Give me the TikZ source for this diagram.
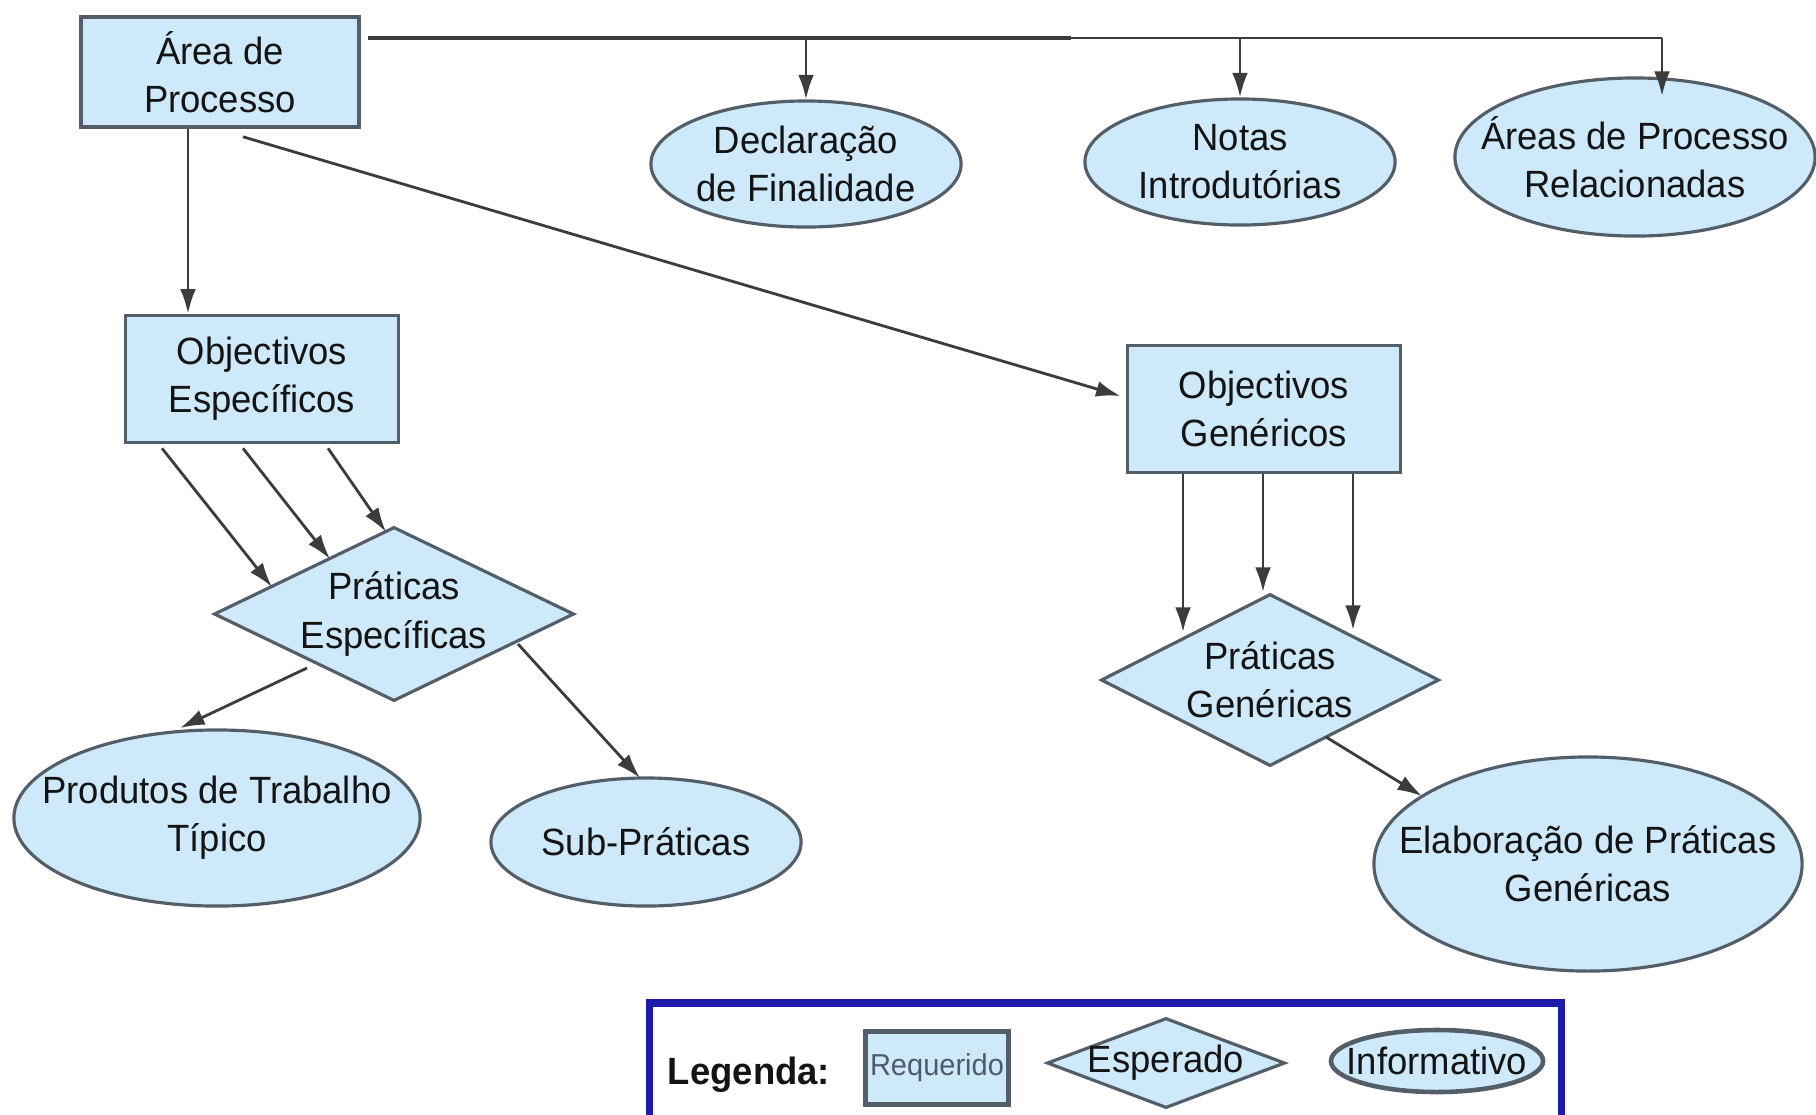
\documentclass[tikz,border=0pt]{standalone}
\usepackage{fontspec}
\setmainfont{Liberation Sans}[FakeStretch=0.96]
\usetikzlibrary{shapes.geometric,arrows.meta,calc}
\definecolor{boxfill}{RGB}{206,233,250}
\definecolor{boxedge}{RGB}{84,94,104}
\definecolor{linec}{RGB}{60,60,60}
\definecolor{legblue}{RGB}{28,28,168}
\definecolor{txt}{RGB}{20,20,20}
\definecolor{reqtxt}{RGB}{80,90,110}
\begin{document}
\begin{tikzpicture}[x=0.01cm,y=-0.01cm,
  every node/.style={font=\fontsize{10.8}{13.7}\selectfont, text=txt, align=center},
  reqbox/.style={draw=boxedge, fill=boxfill, line width=1pt, rectangle, inner sep=0pt},
  infoell/.style={draw=boxedge, fill=boxfill, line width=0.9pt, ellipse, inner sep=0pt},
  expdia/.style={draw=boxedge, fill=boxfill, line width=0.9pt, diamond, inner sep=0pt},
  conn/.style={draw=linec, line width=0.8pt},
  arr/.style={conn, -{Latex[length=7pt,width=4.5pt]}},
]
\clip (0,0) rectangle (1816,1114);
\fill[white] (0,0) rectangle (1816,1114);

% required boxes
\node[reqbox, minimum width=2.78cm, minimum height=1.10cm] (ap) at (220,72) {Área de\\Processo};
\node[reqbox, minimum width=2.73cm, minimum height=1.27cm] (oe) at (262,379) {Objectivos\\Específicos};
\node[reqbox, minimum width=2.73cm, minimum height=1.27cm] (og) at (1264,409) {Objectivos\\Genéricos};

% informative ellipses
\node[infoell, minimum width=3.10cm, minimum height=1.26cm] (dec) at (806,164) {};
\node (dect) at (dec) {Declaração\\de Finalidade};
\node[infoell, minimum width=3.10cm, minimum height=1.26cm] (not) at (1240,162) {};
\node (nott) at (not) {Notas\\Introdutórias};
\node[infoell, minimum width=3.60cm, minimum height=1.58cm] (ar) at (1635,157) {};
\node (art) at (ar) {Áreas de Processo\\Relacionadas};
\node[infoell, minimum width=4.06cm, minimum height=1.76cm] (pt) at (217,818) {};
\node (ptt) at (pt) {Produtos de Trabalho\\Típico};
\node[infoell, minimum width=3.10cm, minimum height=1.28cm] (sp) at (646,842) {};
\node (spt) at (sp) {Sub-Práticas};
\node[infoell, minimum width=4.28cm, minimum height=2.14cm] (el) at (1588,864) {};
\node (elt) at (el) {Elaboração de Práticas\\Genéricas};

% expected diamonds
\node[expdia, minimum width=3.60cm, minimum height=1.74cm] (pe) at (394,614) {};
\node (pet) at (pe) {Práticas\\Específicas};
\node[expdia, minimum width=3.38cm, minimum height=1.72cm] (pg) at (1270,680) {};
\node (pgt) at (pg) {Práticas\\Genéricas};

% top distribution line
\coordinate (tstart) at (368,38);
\coordinate (tmid) at (1071,38);
\coordinate (arTop) at ($(ar.center)+(27,-61)$);
\coordinate (tend) at (arTop |- tstart);
\draw[conn, line width=1.3pt] (tstart) -- (tmid);
\draw[conn] (tmid) -- (tend);
\draw[arr] (dec.north |- tstart) -- (dec.north);
\draw[arr] (not.north |- tstart) -- (not.north);
\draw[arr] (tend) -- (arTop);

% area -> objectives
\draw[arr] ($(ap.south)+(-32,0)$) -- ($(oe.north)+(-74,0)$);
\draw[arr] ($(ap.south)+(23,8)$) -- ($(og.west)+(-5,-13)$);

% specific objectives -> specific practices
\draw[arr] ($(oe.south)+(-100,4)$) -- ($(pe.center)+(-122,-27)$);
\draw[arr] ($(oe.south)+(-19,4)$) -- ($(pe.center)+(-64,-55)$);
\draw[arr] ($(oe.south)+(66,4)$) -- ($(pe.center)+(-8,-82)$);

% generic objectives -> generic practices
\draw[arr] ($(og.south)+(-81,0)$) -- ($(pg.center)+(-87,-48)$);
\draw[arr] ($(og.south)+(-1,0)$) -- ($(pg.center)+(-7,-88)$);
\draw[arr] ($(og.south)+(89,0)$) -- ($(pg.center)+(83,-50)$);

% practices -> informative
\draw[arr] ($(pe.center)+(-87,54)$) -- ($(pt.center)+(-37,-90)$);
\draw[arr] ($(pe.center)+(124,30)$) -- ($(sp.center)+(-6,-64)$);
\draw[arr] ($(pg.center)+(56,57)$) -- ($(el.center)+(-166,-68)$);

% legend
\node[draw=legblue, line width=2pt, fill=white, minimum width=9.11cm, minimum height=1.30cm, inner sep=0pt] (leg) at (1105.5,1068) {};
\node[font=\fontsize{10.8}{13.7}\selectfont\bfseries] (legt) at (749,1075) {Legenda:};
\node[reqbox, line width=1.6pt, minimum width=1.43cm, minimum height=0.73cm, font=\fontsize{8.6}{10}\selectfont, text=reqtxt] (lreq) at (937,1068) {Requerido};
\node[expdia, minimum width=2.38cm, minimum height=0.90cm] (lexp) at (1166,1063) {};
\node (lexpt) at (lexp) {Esperado};
\node[infoell, line width=1.3pt, minimum width=2.12cm, minimum height=0.62cm] (linf) at (1437,1061) {};
\node (linft) at (linf) {Informativo};
\end{tikzpicture}
\end{document}
